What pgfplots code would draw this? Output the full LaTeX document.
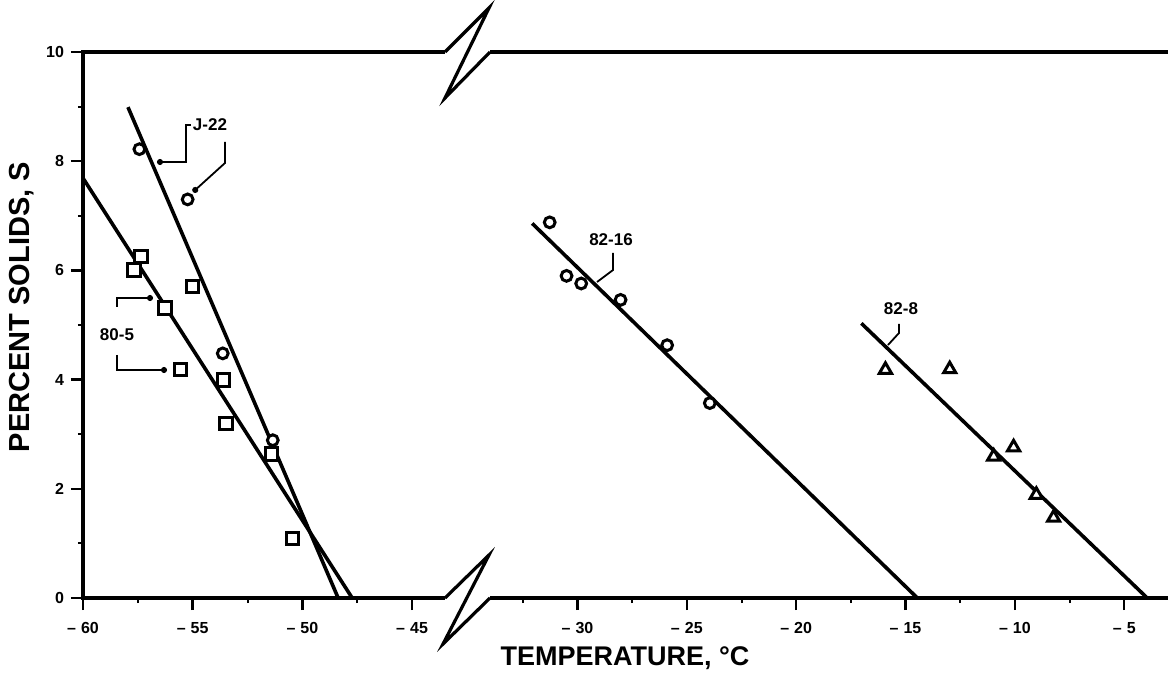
\documentclass[border=0pt]{standalone}
\usepackage{fontspec}
\setmainfont{Liberation Sans}
\usepackage{pgfplots}
\pgfplotsset{compat=1.18}
\usetikzlibrary{arrows.meta}
\begin{document}
\begin{tikzpicture}[x=0.5pt,y=0.5pt]
\path[use as bounding box] (0,0) rectangle (1168,681);
\pgfplotsset{
  brk/.style={
    scale only axis, height=273pt, ymin=0, ymax=10,
    axis line style={draw=none},
    tick align=outside, xtick pos=bottom, ytick pos=left,
    major tick length=6pt, minor tick length=2.5pt,
    tick style={black, line width=1.2pt},
    minor tick style={black, line width=1pt},
    ticklabel style={font=\bfseries\fontsize{8}{9}\selectfont},
    xticklabel style={yshift=-2.5pt},
    clip=false,
  },
  fitline/.style={black, line width=1.8pt, no marks},
  circ/.style={only marks, mark=*, mark size=2.7pt, mark options={fill=white, draw=black, line width=1.5pt}},
  sq/.style={only marks, mark=square*, mark size=3.1pt, mark options={fill=white, draw=black, line width=1.5pt}},
  tri/.style={only marks, mark=triangle*, mark size=3.5pt, mark options={fill=white, draw=black, line width=1.5pt}},
}
% ---------- left part ----------
\begin{axis}[brk, at={(41.5pt,41.5pt)}, anchor=south west, width=181pt,
  xmin=-60, xmax=-43.5,
  xtick={-60,-55,-50,-45},
  xticklabels={{\mbox{\textendash\hspace{2.5pt}60}},{\mbox{\textendash\hspace{2.5pt}55}},{\mbox{\textendash\hspace{2.5pt}50}},{\mbox{\textendash\hspace{2.5pt}45}}},
  minor xtick={-57.5,-52.5,-47.5},
  ytick={0,2,4,6,8,10}, yticklabels={0,2,4,6,8,10},
  minor ytick={1,3,5,7,9}]
\draw[line width=1.6pt] (rel axis cs:1,1) -- (rel axis cs:0,1) -- (rel axis cs:0,0) -- (rel axis cs:1,0);
% J-22 fit
\addplot[fitline] coordinates {(-57.95,8.99) (-48.37,0)};
% 80-5 fit
\addplot[fitline] coordinates {(-60,7.69) (-47.73,0)};
% J-22 data
\addplot[circ] coordinates {(-57.43,8.22) (-55.23,7.30) (-53.63,4.48) (-51.35,2.89)};
% 80-5 data
\addplot[sq] coordinates {(-57.36,6.25) (-57.67,6.01) (-56.26,5.31) (-55.0,5.70) (-55.55,4.18) (-53.6,3.99) (-53.48,3.20) (-51.40,2.64) (-50.45,1.09)};
\end{axis}
% ---------- right part ----------
\begin{axis}[brk, at={(245pt,41.5pt)}, anchor=south west, width=339pt,
  xmin=-34, xmax=-3,
  xtick={-30,-25,-20,-15,-10,-5},
  xticklabels={{\mbox{\textendash\hspace{2.5pt}30}},{\mbox{\textendash\hspace{2.5pt}25}},{\mbox{\textendash\hspace{2.5pt}20}},{\mbox{\textendash\hspace{2.5pt}15}},{\mbox{\textendash\hspace{2.5pt}10}},{\mbox{\textendash\hspace{2.5pt}5}}},
  minor xtick={-32.5,-27.5,-22.5,-17.5,-12.5,-7.5},
  ytick=\empty]
\draw[line width=1.6pt] (rel axis cs:0,1) -- (rel axis cs:1,1);
\draw[line width=1.6pt] (rel axis cs:0,0) -- (rel axis cs:1,0);
% 82-16 fit
\addplot[fitline] coordinates {(-32.07,6.86) (-14.46,0)};
% 82-8 fit
\addplot[fitline] coordinates {(-17.02,5.03) (-3.95,0)};
% 82-16 data
\addplot[circ] coordinates {(-31.27,6.88) (-30.50,5.90) (-29.83,5.76) (-28.03,5.46) (-25.90,4.63) (-23.95,3.57)};
% 82-8 data
\addplot[tri] coordinates {(-15.92,4.18) (-12.98,4.19) (-10.97,2.59) (-10.06,2.76) (-9.02,1.89) (-8.23,1.47)};
\end{axis}
% ---------- axis breaks ----------
\draw[line width=1.6pt, line join=miter] (445,629) -- (489,673) -- (445,583) -- (490,629);
\draw[line width=1.6pt, line join=miter] (445,83) -- (489,126) -- (443,37) -- (490,83);
% ---------- axis titles ----------
\node[rotate=90, font=\bfseries\fontsize{14.5}{15}\selectfont] at (22,374) {PERCENT SOLIDS, S};
\node[font=\bfseries\fontsize{13.5}{14}\selectfont] at (625,23) {TEMPERATURE, °C};
% ---------- annotations ----------
\begin{scope}[line width=0.9pt]
\node[font=\bfseries\fontsize{8.5}{9}\selectfont] at (210,556) {J-22};
\draw[-{Circle[length=3pt]}] (191,556) -- (186,556) -- (186,519) -- (157,519);
\draw[-{Circle[length=3pt]}] (225,539) -- (225,518) -- (193,489);
\node[font=\bfseries\fontsize{8.5}{9}\selectfont] at (117,346) {80-5};
\draw[-{Circle[length=3pt]}] (117,374) -- (117,383) -- (153,383);
\draw[-{Circle[length=3pt]}] (117,326) -- (117,311) -- (167,311);
\node[font=\bfseries\fontsize{8.5}{9}\selectfont] at (611,441) {82-16};
\draw (613,428) -- (613,411) -- (597,399);
\node[font=\bfseries\fontsize{8.5}{9}\selectfont] at (901,372) {82-8};
\draw (899,357) -- (899,348) -- (888,336);
\end{scope}
\end{tikzpicture}
\end{document}
